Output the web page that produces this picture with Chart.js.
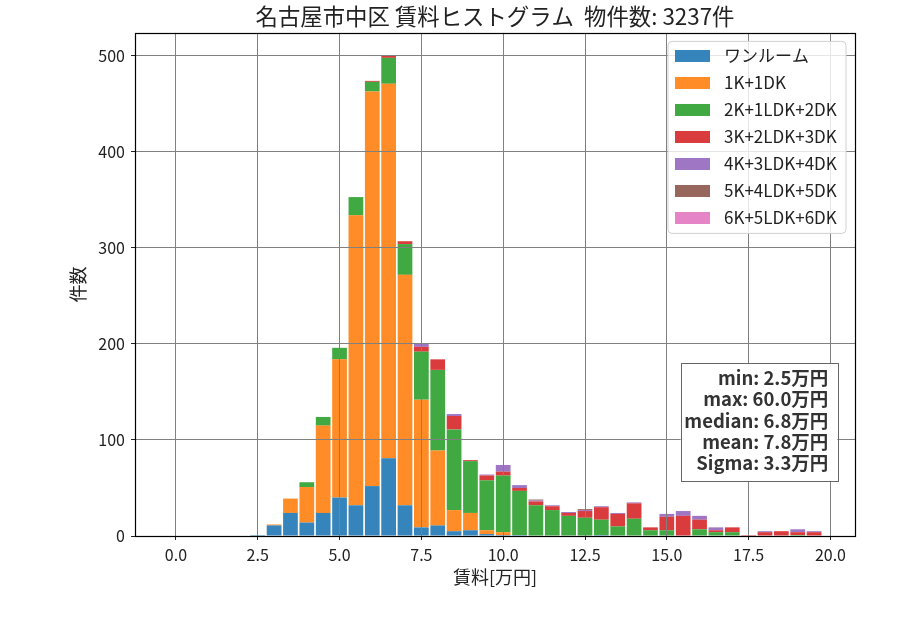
<!DOCTYPE html>
<html lang="ja">
<head>
<meta charset="utf-8">
<title>名古屋市中区 賃料ヒストグラム</title>
<script src="https://cdn.jsdelivr.net/npm/chart.js@4.4.1/dist/chart.umd.min.js"></script>
<style>
  html, body { margin: 0; padding: 0; background: #fff; }
  #histChart { display: block; }
</style>
</head>
<body>
<canvas id="histChart" width="900" height="630"></canvas>
<script>
// bin centres (万円), bins are 0.5 wide
const binCenters = [
  0.0, 0.5, 1.0, 1.5, 2.0, 2.5, 3.0, 3.5, 4.0, 4.5,
  5.0, 5.5, 6.0, 6.5, 7.0, 7.5, 8.0, 8.5, 9.0, 9.5,
  10.0, 10.5, 11.0, 11.5, 12.0, 12.5, 13.0, 13.5, 14.0, 14.5,
  15.0, 15.5, 16.0, 16.5, 17.0, 17.5, 18.0, 18.5, 19.0, 19.5
];

const layoutNames = ['ワンルーム', '1K+1DK', '2K+1LDK+2DK', '3K+2LDK+3DK', '4K+3LDK+4DK', '5K+4LDK+5DK', '6K+5LDK+6DK'];

// counts per bin, one array per layout type
const oneRoom = [
  0, 0, 0, 0, 0, 1, 11, 24, 14, 24,
  40, 32, 52, 81, 32, 9, 11, 5, 6, 2,
  1, 1, 0, 0, 0, 0, 1, 0, 0, 0,
  0, 0, 0, 0, 0, 0, 0, 0, 0, 0
];
const oneK = [
  0, 0, 0, 0, 0, 0, 1, 15, 37, 91,
  144, 302, 411, 390, 240, 133, 78, 22, 18, 4,
  3, 0, 0, 0, 0, 0, 0, 0, 0, 0,
  0, 0, 0, 0, 0, 0, 0, 0, 0, 0
];
const twoK = [
  0, 0, 0, 0, 0, 0, 0, 0, 5, 9,
  12, 19, 10, 27, 32, 50, 84, 84, 54, 52,
  59, 46, 32, 27, 21, 19, 16, 10, 18, 6,
  6, 0, 7, 4, 4, 0, 0, 0, 1, 0
];
const threeK = [
  0, 0, 0, 0, 0, 0, 0, 0, 0, 0,
  0, 0, 1, 2, 3, 5, 11, 14, 1, 5,
  4, 3, 4, 4, 3, 7, 13, 13, 16, 3,
  14, 21, 10, 2, 5, 1, 4, 5, 3, 4
];
const fourK = [
  0, 0, 0, 0, 0, 0, 0, 0, 0, 0,
  0, 0, 0, 0, 0, 3, 0, 2, 0, 1,
  7, 3, 1, 1, 1, 1, 1, 1, 1, 0,
  3, 5, 4, 3, 0, 0, 1, 0, 3, 1
];
const fiveK = [
  0, 0, 0, 0, 0, 0, 0, 0, 0, 0,
  0, 0, 0, 0, 0, 0, 0, 0, 0, 0,
  0, 0, 1, 0, 0, 1, 0, 0, 0, 0,
  0, 0, 0, 0, 0, 0, 0, 0, 0, 0
];
const sixK = [
  0, 0, 0, 0, 0, 0, 0, 0, 0, 0,
  0, 0, 0, 0, 0, 0, 0, 0, 0, 0,
  0, 0, 0, 0, 0, 0, 0, 0, 0, 0,
  0, 0, 0, 0, 0, 0, 0, 0, 0, 0
];

const layoutColors = [
  'rgba(31, 119, 180, 0.9)',
  'rgba(255, 127, 14, 0.9)',
  'rgba(44, 160, 44, 0.9)',
  'rgba(214, 39, 40, 0.9)',
  'rgba(148, 103, 189, 0.9)',
  'rgba(140, 86, 75, 0.9)',
  'rgba(227, 119, 194, 0.9)'
];

const xTickValues = [0.0, 2.5, 5.0, 7.5, 10.0, 12.5, 15.0, 17.5, 20.0];
const yTickValues = [0, 100, 200, 300, 400, 500];

const statLines = ['min: 2.5万円', 'max: 60.0万円', 'median: 6.8万円', 'mean: 7.8万円', 'Sigma: 3.3万円'];

const FONT = '"Noto Sans CJK JP", "Noto Sans", sans-serif';
const series = [oneRoom, oneK, twoK, threeK, fourK, fiveK, sixK];


// axes frame, legend box and stats box drawn on top of the plot
const overlayPlugin = {
    id: 'overlay',
    afterLayout(chart) {
        // centre the title over the plot area like matplotlib does
        const t = chart.titleBlock;
        if (t) {
            t.left = chart.chartArea.left;
            t.right = chart.chartArea.right;
            t.width = t.right - t.left;
        }
    },
    afterDraw(chart) {
        const { ctx, chartArea: a } = chart;
        ctx.save();

        // spines
        ctx.strokeStyle = '#000';
        ctx.lineWidth = 1.2;
        ctx.strokeRect(Math.round(a.left) + 0.5, Math.round(a.top) + 0.5,
            Math.round(a.right - a.left), Math.round(a.bottom - a.top));

        // legend
        const lw = 178, lh = 192;
        const lx = a.right - 9 - lw, ly = a.top + 8.5;
        ctx.beginPath();
        ctx.roundRect(lx, ly, lw, lh, 4);
        ctx.fillStyle = 'rgba(255,255,255,0.8)';
        ctx.fill();
        ctx.strokeStyle = '#d0d0d0';
        ctx.lineWidth = 1;
        ctx.stroke();

        ctx.font = '17px ' + FONT;
        ctx.textBaseline = 'middle';
        ctx.textAlign = 'left';
        chart.data.datasets.forEach((ds, i) => {
            const cy = ly + 14.6 + i * 27;
            ctx.fillStyle = ds.backgroundColor;
            ctx.fillRect(lx + 7, cy - 6, 35, 12);
            ctx.fillStyle = '#222';
            ctx.fillText(ds.label, lx + 56, cy);
        });

        // stats
        const sw = 156.6, sh = 117.7;
        const sx = a.right - 17.7 - sw, sy = a.bottom - 55 - sh;
        ctx.fillStyle = '#fff';
        ctx.fillRect(sx, sy, sw, sh);
        ctx.strokeStyle = '#666';
        ctx.strokeRect(Math.round(sx) + 0.5, Math.round(sy) + 0.5, Math.round(sw), Math.round(sh));
        ctx.font = 'bold 18.5px ' + FONT;
        ctx.textAlign = 'right';
        ctx.fillStyle = '#333';
        statLines.forEach((line, i) => {
            ctx.fillText(line, sx + sw - 9, sy + 14.5 + i * 21.4);
        });

        ctx.restore();
    }
};


function createHistogram() {
    const ctx = document.getElementById('histChart').getContext('2d');
    new Chart(ctx, {
        type: 'bar',
        data: {
            datasets: layoutNames.map((name, i) => ({
                label: name,
                data: binCenters.map((x, j) => ({ x: x, y: series[i][j] })),
                backgroundColor: layoutColors[i],
                borderWidth: 0,
                categoryPercentage: 1.0,
                barPercentage: 0.9
            }))
        },
        options: {
            responsive: false,
            animation: false,
            layout: { padding: { left: 0, right: 45, top: 0, bottom: 0 } },
            scales: {
                x: {
                    type: 'linear',
                    stacked: true,
                    offset: false,
                    min: -1.25,
                    max: 20.75,
                    afterFit: scale => { scale.height = 94; },
                    afterBuildTicks: scale => { scale.ticks = xTickValues.map(v => ({ value: v })); },
                    ticks: {
                        callback: v => Number(v).toFixed(1),
                        font: { size: 16, family: FONT },
                        color: '#222',
                        padding: 5,
                        maxRotation: 0
                    },
                    grid: { offset: false, color: '#808080', lineWidth: 1, z: 1, tickLength: 4, tickColor: '#222' },
                    border: { display: false },
                    title: {
                        display: true,
                        text: '賃料[万円]',
                        font: { size: 18, family: FONT },
                        color: '#222',
                        padding: { top: 0, bottom: 42 }
                    }
                },
                y: {
                    stacked: true,
                    min: 0,
                    max: 524,
                    afterFit: scale => { scale.width = 135; },
                    afterBuildTicks: scale => { scale.ticks = yTickValues.map(v => ({ value: v })); },
                    ticks: {
                        font: { size: 16, family: FONT },
                        color: '#222',
                        padding: 6
                    },
                    grid: { color: '#808080', lineWidth: 1, z: 1, tickLength: 4, tickColor: '#222' },
                    border: { display: false },
                    title: {
                        display: true,
                        text: '件数',
                        font: { size: 18, family: FONT },
                        color: '#222',
                        padding: { top: 67, bottom: 0 }
                    }
                }
            },
            plugins: {
                legend: { display: false },
                tooltip: { enabled: false },
                title: {
                    display: true,
                    text: '名古屋市中区 賃料ヒストグラム  物件数: 3237件',
                    font: { size: 22.4, weight: 'normal', family: FONT },
                    color: '#222',
                    padding: { top: 3, bottom: 3 }
                }
            }
        },
        plugins: [overlayPlugin]
    });
}

createHistogram();
</script>
</body>
</html>
